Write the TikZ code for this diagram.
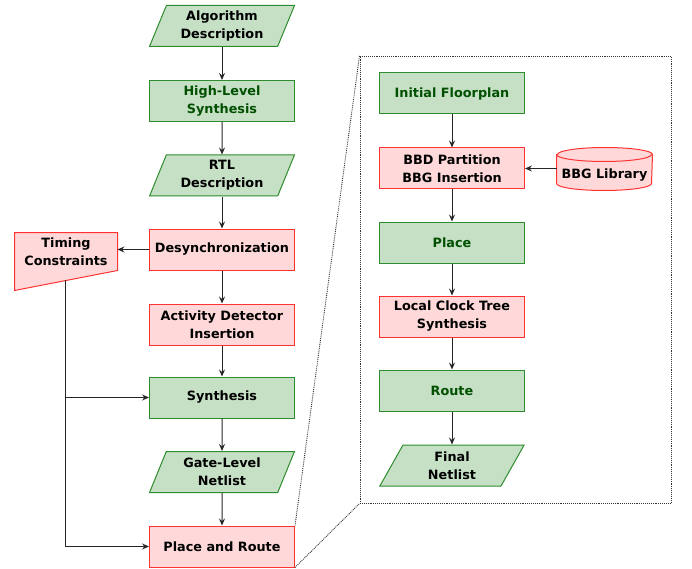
\documentclass[tikz,border=0pt]{standalone}
\usepackage{fontspec}
\setmainfont{DejaVu Sans}
\usetikzlibrary{shapes.geometric,calc,arrows.meta}
\definecolor{boxgreen}{RGB}{45,140,45}
\definecolor{fillgreen}{RGB}{198,224,198}
\definecolor{boxred}{RGB}{255,50,50}
\definecolor{fillred}{RGB}{255,217,217}
\definecolor{textgreen}{RGB}{0,80,0}

\tikzset{
  basebox/.style={minimum width=145pt, minimum height=41pt, align=center,
    line width=1pt, inner sep=2pt, font=\fontsize{12.8}{18}\selectfont\bfseries},
  greenbox/.style={basebox, rectangle, draw=boxgreen, fill=fillgreen},
  redbox/.style={basebox, rectangle, draw=boxred, fill=fillred},
  databox/.style={basebox, trapezium, trapezium left angle=69, trapezium right angle=111,
    trapezium stretches=true, draw=boxgreen, fill=fillgreen},
  flow/.style={->, line width=1pt, draw=black!85},
  zoomline/.style={densely dotted, line width=0.9pt, draw=black!80}
}

\begin{document}
\begin{tikzpicture}[x=1pt, y=-1pt, >={Stealth[length=7pt, width=6pt, inset=2.5pt]}]
        \useasboundingbox (0,0) rectangle (692,569);
        % main flow
        \node [databox] (algo) at (222, 26) {Algorithm\\Description};
        \node [greenbox, text=textgreen] (hls) at (222, 101) {High-Level\\Synthesis};
        \node [databox] (rtl) at (222, 175.5) {RTL\\Description};
        \node [redbox] (desync) at (222, 249.5) {Desynchronization};
        \node [redbox] (actdet) at (222, 324.5) {Activity Detector\\Insertion};
        \node [greenbox] (synth) at (222, 397.5) {Synthesis};
        \node [databox] (gate) at (222, 472) {Gate-Level\\Netlist};
        \node [redbox] (pnr) at (222, 546.5) {Place and Route};

        \draw [flow] (algo) -- (hls);
        \draw [flow] (hls) -- (rtl);
        \draw [flow] (rtl) -- (desync);
        \draw [flow] (desync) -- (actdet);
        \draw [flow] (actdet) -- (synth);
        \draw [flow] (synth) -- (gate);
        \draw [flow] (gate) -- (pnr);

        % timing constraints
        \node [basebox, minimum width=102pt, minimum height=37pt] (timing) at (66, 251.5) {Timing\\Constraints};
        \draw [line width=1pt, draw=boxred, fill=fillred] (timing.north west) -- (timing.north east)
            -- (timing.south east) -- ($(timing.south west)+(0,20)$) -- cycle;
        \node [basebox, minimum width=102pt, minimum height=37pt] at (timing) {Timing\\Constraints};
        \coordinate (tcfoot) at (65, 280);
        \draw [flow] (desync.west) -- (desync.west -| timing.east);
        \draw [flow] (tcfoot) |- (pnr.west);
        \draw [flow] (tcfoot |- synth.west) -- (synth.west);

        % place and route detail
        \node [zoomline, draw, minimum width=311pt, minimum height=447pt] (detail) at (515.5, 279.5) {};
        \draw [zoomline] (pnr.north east) -- (detail.north west);
        \draw [zoomline] (pnr.south east) -- (detail.south west);

        \node [greenbox, text=textgreen] (floor) at (452, 93.5) {Initial Floorplan};
        \node [redbox] (bbd) at (452, 168.5) {BBD Partition\\BBG Insertion};
        \node [greenbox, text=textgreen] (place) at (452, 242.5) {Place};
        \node [redbox] (cts) at (452, 316.5) {Local Clock Tree\\Synthesis};
        \node [greenbox, text=textgreen] (route) at (452, 390.5) {Route};
        \node [databox] (final) at (452, 465.5) {Final\\Netlist};

        % library drum
        \node [basebox, minimum width=95pt, minimum height=42pt] (lib) at (604.5, 169) {};
        \draw [line width=1pt, draw=boxred, fill=fillred] ($(lib.north west)+(0,7)$) -- ($(lib.south west)+(0,-7)$)
            arc [start angle=180, end angle=0, x radius=47.5, y radius=7]
            -- ($(lib.north east)+(0,7)$) arc [start angle=0, end angle=-180, x radius=47.5, y radius=7] -- cycle;
        \draw [line width=1pt, draw=boxred] ($(lib.north west)+(0,7)$)
            arc [start angle=180, end angle=0, x radius=47.5, y radius=7];
        \node [basebox, minimum width=0pt, minimum height=0pt] (libtext) at ($(lib.center)+(0,6)$) {BBG Library};

        \draw [flow] (floor) -- (bbd);
        \draw [flow] (bbd) -- (place);
        \draw [flow] (place) -- (cts);
        \draw [flow] (cts) -- (route);
        \draw [flow] (route) -- (final);
        \draw [flow] (lib.west |- bbd.east) -- (bbd.east);
\end{tikzpicture}
\end{document}
